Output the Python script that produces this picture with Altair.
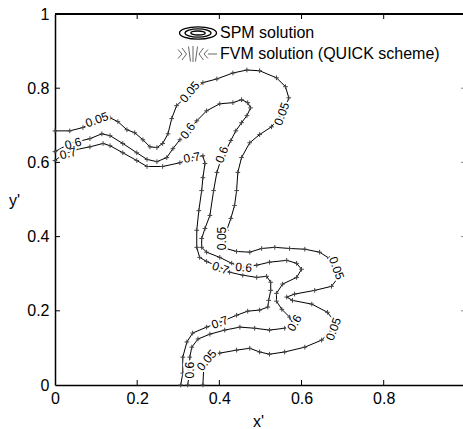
import altair as alt
import pandas as pd

FONT = "Liberation Sans"

# ---- contour data (x', y') ----
c05_x = [0.000, 0.036, 0.068, 0.102, 0.134, 0.153, 0.175, 0.194, 0.214, 0.231,
         0.248, 0.262, 0.275, 0.284, 0.296, 0.316, 0.335, 0.360, 0.394, 0.433,
         0.467, 0.498, 0.539, 0.561, 0.569, 0.561, 0.549, 0.527, 0.498, 0.474,
         0.454, 0.445, 0.442, 0.437, 0.428, 0.418, 0.408, 0.416, 0.442, 0.474,
         0.503, 0.535, 0.571, 0.608, 0.644, 0.668, 0.683, 0.688, 0.673, 0.632,
         0.583, 0.564, 0.578, 0.625, 0.663, 0.680, 0.673, 0.649, 0.608, 0.559,
         0.522, 0.498, 0.474, 0.442, 0.401, 0.372, 0.362, 0.360]
c05_y = [0.685, 0.685, 0.694, 0.715, 0.720, 0.710, 0.688, 0.680, 0.661, 0.642,
         0.640, 0.651, 0.677, 0.718, 0.753, 0.774, 0.793, 0.815, 0.825, 0.841,
         0.849, 0.847, 0.828, 0.804, 0.774, 0.747, 0.726, 0.696, 0.675, 0.653,
         0.613, 0.573, 0.524, 0.484, 0.449, 0.417, 0.390, 0.368, 0.360, 0.358,
         0.368, 0.371, 0.368, 0.366, 0.358, 0.341, 0.317, 0.288, 0.266, 0.255,
         0.245, 0.237, 0.228, 0.218, 0.196, 0.172, 0.148, 0.121, 0.102, 0.089,
         0.083, 0.089, 0.099, 0.094, 0.086, 0.073, 0.048, 0.000]

c06_x = [0.000, 0.036, 0.085, 0.114, 0.134, 0.165, 0.199, 0.224, 0.248, 0.272,
         0.287, 0.304, 0.323, 0.345, 0.369, 0.401, 0.433, 0.454, 0.469, 0.476,
         0.467, 0.454, 0.440, 0.428, 0.416, 0.403, 0.394, 0.386, 0.377, 0.365,
         0.357, 0.357, 0.369, 0.401, 0.430, 0.457, 0.491, 0.522, 0.564, 0.588,
         0.600, 0.588, 0.554, 0.539, 0.539, 0.552, 0.571, 0.578, 0.559, 0.522,
         0.486, 0.450, 0.413, 0.377, 0.348, 0.333, 0.328, 0.328, 0.323]
c06_y = [0.629, 0.651, 0.664, 0.677, 0.672, 0.651, 0.626, 0.608, 0.602, 0.613,
         0.637, 0.661, 0.683, 0.712, 0.739, 0.758, 0.761, 0.769, 0.761, 0.747,
         0.726, 0.707, 0.685, 0.659, 0.632, 0.605, 0.573, 0.524, 0.457, 0.422,
         0.395, 0.371, 0.358, 0.344, 0.328, 0.317, 0.323, 0.331, 0.336, 0.328,
         0.312, 0.290, 0.272, 0.247, 0.226, 0.204, 0.183, 0.167, 0.153, 0.148,
         0.153, 0.156, 0.148, 0.137, 0.124, 0.102, 0.075, 0.040, 0.000]

c07_x = [0.000, 0.019, 0.049, 0.085, 0.117, 0.134, 0.165, 0.199, 0.224, 0.262,
         0.304, 0.335, 0.360, 0.365, 0.360, 0.357, 0.350, 0.345, 0.345, 0.352,
         0.369, 0.401, 0.425, 0.457, 0.491, 0.515, 0.525, 0.525, 0.520, 0.518,
         0.498, 0.469, 0.442, 0.401, 0.369, 0.335, 0.321, 0.311, 0.311, 0.306]
c07_y = [0.605, 0.621, 0.634, 0.642, 0.651, 0.645, 0.626, 0.605, 0.589, 0.589,
         0.599, 0.613, 0.618, 0.597, 0.559, 0.524, 0.470, 0.417, 0.371, 0.344,
         0.333, 0.317, 0.304, 0.296, 0.290, 0.293, 0.277, 0.255, 0.228, 0.210,
         0.202, 0.199, 0.188, 0.169, 0.156, 0.140, 0.116, 0.075, 0.032, 0.000]

# contour labels
lab_text = ["0.05", "0.05", "0.05", "0.05", "0.05", "0.05", "0.05",
            "0.6", "0.6", "0.6", "0.6", "0.6", "0.6",
            "0.7", "0.7", "0.7", "0.7"]
lab_x = [0.102, 0.328, 0.552, 0.406, 0.685, 0.678, 0.369,
         0.044, 0.323, 0.406, 0.459, 0.583, 0.328,
         0.032, 0.333, 0.403, 0.401]
lab_y = [0.715, 0.790, 0.731, 0.395, 0.315, 0.151, 0.067,
         0.651, 0.685, 0.621, 0.317, 0.167, 0.040,
         0.624, 0.613, 0.315, 0.169]
lab_angle = [340, 310, 290, 270, 70, 290, 310,
             345, 305, 290, 5, 300, 270,
             345, 350, 20, 340]

x_ticks = [0, 0.2, 0.4, 0.6, 0.8]
y_ticks = [0, 0.2, 0.4, 0.6, 0.8, 1]
series_names = ["SPM solution", "FVM solution (QUICK scheme)"]

# ---- tables ----
rows = []
for level, xs, ys in [("0.05", c05_x, c05_y), ("0.6", c06_x, c06_y), ("0.7", c07_x, c07_y)]:
    for i, (xv, yv) in enumerate(zip(xs, ys)):
        rows.append({"level": level, "i": i, "x": xv, "y": yv})
df = pd.DataFrame(rows)
labels_df = pd.DataFrame({"text": lab_text, "x": lab_x, "y": lab_y, "angle": lab_angle})
xt_df = pd.DataFrame({"x": x_ticks[1:]})
yt_df = pd.DataFrame({"y": y_ticks[1:-1]})
spm_df = pd.DataFrame({"series": [series_names[0]]})
fvm_df = pd.DataFrame({"series": [series_names[1]]})

W, H = 408, 371


def ellipse(rx, ry):
    k = 0.5523
    return (f"M{-rx},0C{-rx},{-k*ry:.3f} {-k*rx:.3f},{-ry} 0,{-ry}"
            f"C{k*rx:.3f},{-ry} {rx},{-k*ry:.3f} {rx},0"
            f"C{rx},{k*ry:.3f} {k*rx:.3f},{ry} 0,{ry}"
            f"C{-k*rx:.3f},{ry} {-rx},{k*ry:.3f} {-rx},0Z")


# legend icons (drawn at size 400 -> 10 px per path unit)
SPM_PATH = ellipse(1.85, 0.62) + ellipse(1.3, 0.42) + ellipse(0.72, 0.2)
FVM_PATH = ("M-2,-0.45L-1.6,0L-2,0.45M-1.6,-0.6L-1.15,0L-1.6,0.6"
            "M-0.95,-0.75L-0.75,0.75M-0.5,-0.8L-0.5,0.8M-0.05,-0.75L-0.25,0.75"
            "M0.55,-0.6L0.1,0L0.55,0.6M1.0,-0.45L0.6,0L1.0,0.45M1.0,0L1.9,0")
PLUS = "M-1,0L1,0M0,-1L0,1"

xscale = alt.Scale(domain=[0, 0.993], nice=False, zero=False)
yscale = alt.Scale(domain=[0, 1], nice=False, zero=False)

xaxis = alt.Axis(values=x_ticks, format="~g", title="x'", grid=False, ticks=False, tickSize=0,
                 labelPadding=5, labelFontSize=16, labelFont=FONT, labelColor="black",
                 labelFlush=False, labelOverlap=False,
                 domainColor="black", domainWidth=1.5,
                 titleFont=FONT, titleFontSize=16, titleFontWeight="normal", titleColor="black",
                 titleX=203, titleY=41, titleAlign="center", titleBaseline="alphabetic")
yaxis = alt.Axis(values=y_ticks, format="~g", title="y'", grid=False, ticks=False, tickSize=0,
                 labelPadding=6, labelFontSize=16, labelFont=FONT, labelColor="black",
                 labelFlush=False, labelOverlap=False,
                 domainColor="black", domainWidth=1.5,
                 titleFont=FONT, titleFontSize=16, titleFontWeight="normal", titleColor="black",
                 titleAngle=0, titleX=-41, titleY=186, titleAlign="center", titleBaseline="middle")

xenc = alt.X("x:Q", scale=xscale, axis=xaxis)
yenc = alt.Y("y:Q", scale=yscale, axis=yaxis)

lines = alt.Chart(df).mark_line(color="black", strokeWidth=1).encode(
    x=xenc, y=yenc, detail="level:N", order="i:Q")

points = alt.Chart(df).mark_point(shape=PLUS, size=22, filled=False, color="#444",
                                  strokeWidth=1, opacity=1).encode(x=xenc, y=yenc)

halo = alt.Chart(labels_df).mark_text(font=FONT, fontSize=12, stroke="white", strokeWidth=4,
                                      fill="white", align="center", baseline="middle").encode(
    x=xenc, y=yenc, text="text:N", angle=alt.Angle("angle:Q", scale=None))
ltext = alt.Chart(labels_df).mark_text(font=FONT, fontSize=12, color="black",
                                       align="center", baseline="middle").encode(
    x=xenc, y=yenc, text="text:N", angle=alt.Angle("angle:Q", scale=None))

tick_bot = alt.Chart(xt_df).mark_rule(color="black", strokeWidth=1).encode(
    x=xenc, y=alt.value(H), y2=alt.value(H - 5))
tick_top = alt.Chart(xt_df).mark_rule(color="black", strokeWidth=1).encode(
    x=xenc, y=alt.value(0), y2=alt.value(5))
tick_left = alt.Chart(yt_df).mark_rule(color="black", strokeWidth=1).encode(
    y=yenc, x=alt.value(0), x2=alt.value(5))
tick_right = alt.Chart(yt_df).mark_rule(color="#888", strokeWidth=1).encode(
    y=yenc, x=alt.value(406), x2=alt.value(411))
top_line = alt.Chart(xt_df).mark_rule(color="black", strokeWidth=1.5).encode(
    x=alt.value(0), x2=alt.value(411), y=alt.value(0))

# legend (top centre of the plot)
spm_icon = alt.Chart(spm_df).mark_point(shape=SPM_PATH, size=400, filled=False, color="black",
                                        strokeWidth=1.3, opacity=1).encode(
    x=alt.value(143), y=alt.value(19))
spm_text = alt.Chart(spm_df).mark_text(font=FONT, fontSize=16, color="black", align="left",
                                       baseline="middle").encode(
    x=alt.value(165), y=alt.value(19), text="series:N")
fvm_icon = alt.Chart(fvm_df).mark_point(shape=FVM_PATH, size=400, filled=False, color="#666",
                                        strokeWidth=1, opacity=1).encode(
    x=alt.value(143), y=alt.value(40))
fvm_text = alt.Chart(fvm_df).mark_text(font=FONT, fontSize=16, color="black", align="left",
                                       baseline="middle").encode(
    x=alt.value(165), y=alt.value(40), text="series:N")

chart = alt.layer(lines, points, halo, ltext, tick_bot, tick_top, tick_left, tick_right,
                  top_line, spm_icon, spm_text, fvm_icon, fvm_text).properties(
    width=W, height=H,
    autosize=alt.AutoSizeParams(type="none"),
    padding={"left": 55, "top": 14, "right": 0, "bottom": 44},
    background="white",
).configure_view(stroke=None)

chart.save("out.html", embed_options={"renderer": "svg", "actions": False})
